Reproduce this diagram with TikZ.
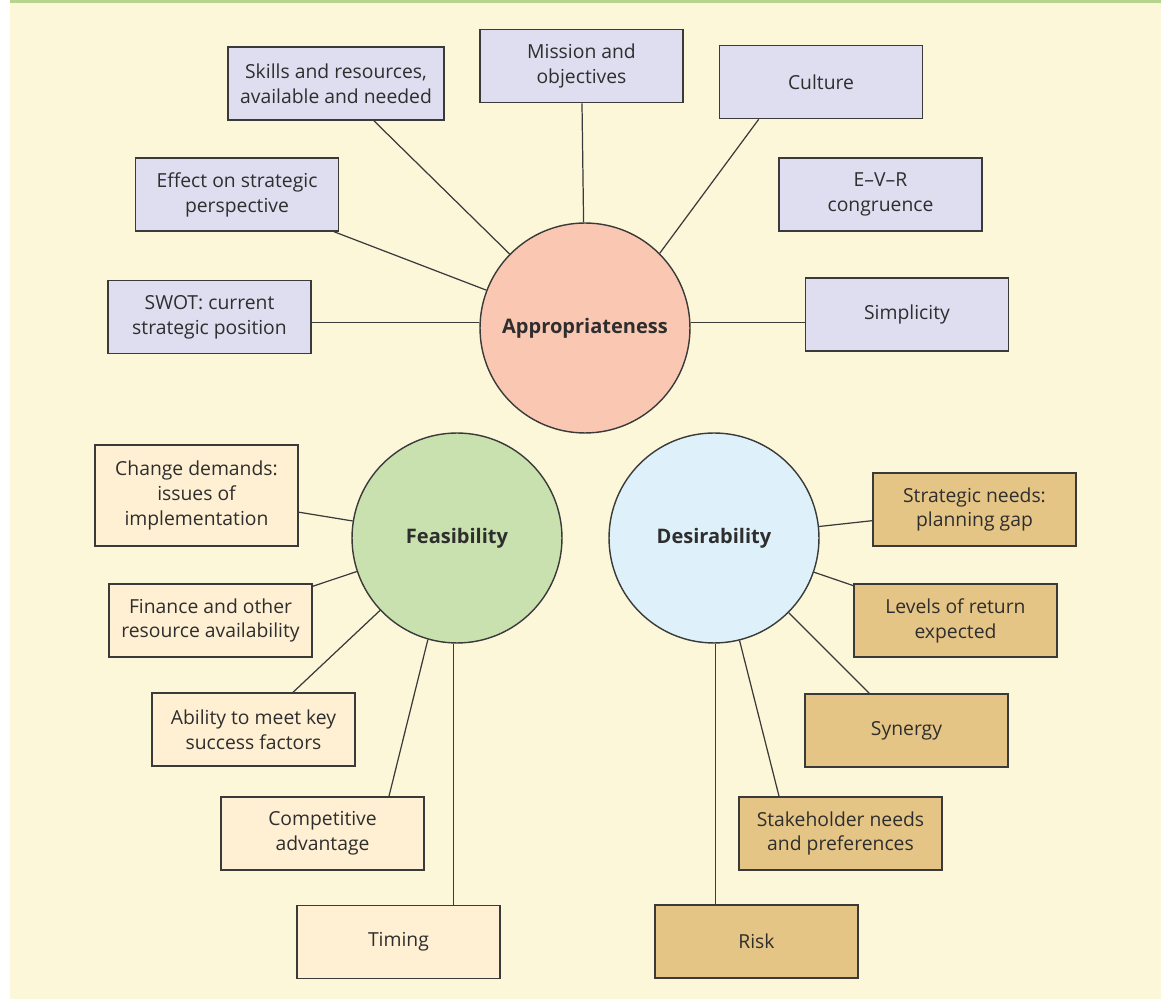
\documentclass[tikz,border=0pt]{standalone}
\usepackage{fontspec}
\setmainfont{Open Sans}
\definecolor{panel-cream}{HTML}{FDF7DA}
\definecolor{rule-green}{HTML}{B7D48F}
\definecolor{line-grey}{HTML}{3A3A3A}
\definecolor{text-grey}{HTML}{2E2E2E}
\definecolor{lilac}{HTML}{DFDEF0}
\definecolor{salmon}{HTML}{FAC7B2}
\definecolor{sage}{HTML}{C9E1AE}
\definecolor{ice}{HTML}{DEF1FA}
\definecolor{cream-box}{HTML}{FFF0D3}
\definecolor{sand}{HTML}{E5C585}

\begin{document}
\begin{tikzpicture}[
    x=0.02cm, y=-0.02cm,
    every node/.style={
        font=\fontsize{11}{14.2}\selectfont, text=text-grey,
    },
    hub/.style={
        circle, draw=line-grey, line width=0.8pt, minimum size=4.2cm,
        font=\bfseries\fontsize{11.4}{14}\selectfont,
    },
    factor/.style={
        rectangle, draw=line-grey, line width=0.9pt, align=center,
        minimum width=4.06cm, minimum height=1.46cm, inner sep=2pt,
    },
    appr box/.style={ factor, fill=lilac, },
    feas box/.style={ factor, fill=cream-box, },
    desir box/.style={ factor, fill=sand, },
    link/.style={ draw=line-grey, line width=0.7pt, },
]

\useasboundingbox (0,0) rectangle (1161,999);
\fill[panel-cream] (10,0) rectangle (1161,999);
\fill[rule-green] (10,0) rectangle (1161,3);

% the three tests
\node[hub, fill=salmon] (appr)  at (585,328) {Appropriateness};
\node[hub, fill=sage]   (feas)  at (457,538) {Feasibility};
\node[hub, fill=ice]    (desir) at (714,538) {Desirability};

% appropriateness
\node[appr box, minimum width=4.32cm] (skills) at (336,83.5) {Skills and resources,\\available and needed};
\node[appr box] (mission) at (581.5,66)  {Mission and\\objectives};
\node[appr box] (culture) at (821,82)    {Culture};
\node[appr box] (effect)  at (237,194.5) {Effect on strategic\\perspective};
\node[appr box] (evr)     at (880.5,194.5) {E--V--R\\congruence};
\node[appr box] (swot)    at (209.5,317) {SWOT: current\\strategic position};
\node[appr box] (simp)    at (907,314.5) {Simplicity};

% feasibility
\node[feas box, minimum height=2.02cm] (change) at (196.5,495.5) {Change demands:\\issues of\\implementation};
\node[feas box] (finance) at (210.5,620.5) {Finance and other\\resource availability};
\node[feas box] (ability) at (253.5,729.5) {Ability to meet key\\success factors};
\node[feas box] (comp)    at (322.5,833.5) {Competitive\\advantage};
\node[feas box] (timing)  at (398.5,942)   {Timing};

% desirability
\node[desir box] (strat)   at (974.5,509.5) {Strategic needs:\\planning gap};
\node[desir box] (levels)  at (955.5,620.5) {Levels of return\\expected};
\node[desir box] (synergy) at (906.5,730.5) {Synergy};
\node[desir box] (stake)   at (840.5,833.5) {Stakeholder needs\\and preferences};
\node[desir box] (risk)    at (756.5,941.5) {Risk};

\foreach \b in {skills,mission,effect}
    \draw[link] (appr) -- (\b);
\draw[link] (appr.45) -- ([xshift=0.8cm]culture.south west);
\draw[link] (appr.177) -- (appr.177 -| swot.east);
\draw[link] (appr.3) -- (appr.3 -| simp.west);

\foreach \b in {change,finance,ability}
    \draw[link] (feas) -- (\b);
\draw[link] (feas.254) -- ([xshift=1.33cm]comp.north);
\draw[link] (feas.268) -- (feas.268 |- timing.north);

\foreach \b in {strat,levels,synergy}
    \draw[link] (desir) -- (\b);
\draw[link] (desir.284) -- ([xshift=-1.23cm]stake.north);
\draw[link] (desir.271) -- (desir.271 |- risk.north);
\end{tikzpicture}
\end{document}
